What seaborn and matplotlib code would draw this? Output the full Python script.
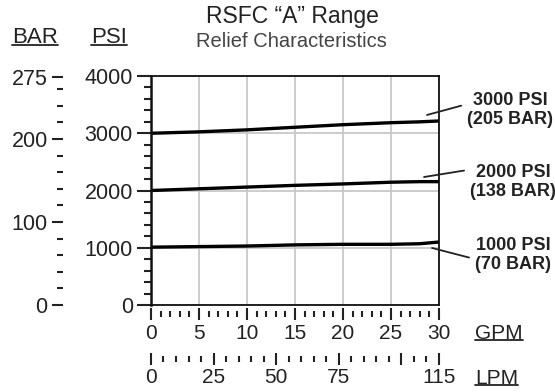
import numpy as np
import pandas as pd
import matplotlib
matplotlib.use('Agg')
import matplotlib.pyplot as plt
import seaborn as sns
from matplotlib.lines import Line2D
from matplotlib.ticker import FixedLocator

# data
gpm = [0, 5, 10, 15, 20, 25, 28, 30]
psi_3000 = [3000, 3025, 3060, 3105, 3150, 3185, 3200, 3215]
psi_2000 = [2000, 2030, 2060, 2090, 2115, 2145, 2155, 2155]
psi_1000 = [1010, 1020, 1030, 1050, 1060, 1060, 1070, 1100]
settings = ['3000 PSI\n(205 BAR)', '2000 PSI\n(138 BAR)', '1000 PSI\n(70 BAR)']

bar_major = [0, 100, 200, 275]
bar_minor = [20, 40, 60, 80, 120, 140, 160, 180, 220, 240, 260]
lpm_major = [0, 25, 50, 75, 100, 115]
lpm_labels = ['0', '25', '50', '75', '', '115']
lpm_minor = [5, 10, 15, 20, 30, 35, 40, 45, 55, 60, 65, 70, 80, 85, 90, 95, 105, 110]

PSI_PER_BAR = 14.5038
LPM_PER_GPM = 115 / 30

df = pd.DataFrame({
    'gpm': gpm * 3,
    'psi': psi_3000 + psi_2000 + psi_1000,
    'setting': [settings[0]] * len(gpm) + [settings[1]] * len(gpm) + [settings[2]] * len(gpm),
})

sns.set_style('white', {'xtick.bottom': True, 'ytick.left': True})
plt.rcParams['font.family'] = ['Liberation Sans', 'DejaVu Sans']
txt = '#222222'

fig = plt.figure(figsize=(5.55, 3.92), dpi=100)
ax = fig.add_axes([0.272, 0.222, 0.519, 0.584])

sns.lineplot(data=df, x='gpm', y='psi', hue='setting', palette=['black'] * 3,
             linewidth=2.4, legend=False, ax=ax)

ax.set_xlim(0, 30)
ax.set_ylim(0, 4000)
ax.set_xlabel(None)
ax.set_ylabel(None)
ax.set_xticks(range(0, 31, 5))
ax.set_yticks(range(0, 4001, 1000))
ax.yaxis.set_minor_locator(FixedLocator([v for v in range(0, 4001, 200) if v % 1000]))
ax.grid(True, color='#c8c8c8', linewidth=1.3)
ax.set_axisbelow(True)
for s in ax.spines.values():
    s.set_visible(True)
    s.set_color('#111111')
    s.set_linewidth(1.3)
ax.spines['left'].set_linewidth(1.8)
ax.tick_params(axis='x', length=0, labelbottom=False)
ax.tick_params(axis='y', which='major', direction='out', length=10, width=1.5,
               color=txt, labelcolor=txt, labelsize=15.5, pad=3)
ax.tick_params(axis='y', which='minor', direction='out', length=5, width=1.5, color=txt, left=True)

# BAR scale
bar = ax.secondary_yaxis(-0.3056, functions=(lambda p: p / PSI_PER_BAR, lambda b: b * PSI_PER_BAR))
bar.set_yticks(bar_major)
bar.yaxis.set_minor_locator(FixedLocator(bar_minor))
bar.spines['left'].set_visible(False)
bar.tick_params(which='major', direction='out', length=8, width=1.5, color=txt,
                labelcolor=txt, labelsize=15.5, pad=3, left=True)
bar.tick_params(which='minor', direction='out', length=4, width=1.5, color=txt, left=True)

# GPM scale
gx = ax.secondary_xaxis(-0.0415)
gx.set_xticks(range(0, 31, 5))
gx.xaxis.set_minor_locator(FixedLocator([v for v in range(31) if v % 5]))
gx.spines['bottom'].set_visible(False)
gx.tick_params(which='major', direction='inout', length=9, width=1.5, color=txt,
               labelcolor=txt, labelsize=15, pad=2, bottom=True)
gx.tick_params(which='minor', direction='inout', length=5, width=1.5, color=txt, bottom=True)

# LPM scale
lx = ax.secondary_xaxis(-0.238, functions=(lambda g: g * LPM_PER_GPM, lambda l: l / LPM_PER_GPM))
lx.set_xticks(lpm_major, lpm_labels)
lx.xaxis.set_minor_locator(FixedLocator(lpm_minor))
lx.spines['bottom'].set_visible(False)
lx.tick_params(which='major', direction='inout', length=9, width=1.5, color=txt,
               labelcolor=txt, labelsize=15, pad=2, bottom=True)
lx.tick_params(which='minor', direction='inout', length=5, width=1.5, color=txt, bottom=True)

# titles
fig.text(0.527, 0.957, 'RSFC \u201cA\u201d Range', ha='center', va='center', fontsize=16.5, color=txt)
fig.text(0.526, 0.893, 'Relief Characteristics', ha='center', va='center', fontsize=14.5, color='#444444')

heads = [
    fig.text(0.063, 0.905, 'BAR', ha='center', va='center', fontsize=16, color=txt),
    fig.text(0.197, 0.905, 'PSI', ha='center', va='center', fontsize=16, color=txt),
    ax.text(1.125, -0.123, 'GPM', transform=ax.transAxes, ha='left', va='center', fontsize=15, color=txt),
    ax.text(1.125, -0.32, 'LPM', transform=ax.transAxes, ha='left', va='center', fontsize=15, color=txt),
]

# annotations with leader lines
notes = [
    (settings[0], (28.75, 3320), (1.247, 0.852), (0.0, 0.66)),
    (settings[1], (28.44, 2236), (1.257, 0.537), (0.0, 0.84)),
    (settings[2], (29.27, 996), (1.257, 0.218), (0.0, 0.39)),
]
for label, xy, xyt, rel in notes:
    ax.annotate(label, xy=xy, xytext=xyt, textcoords='axes fraction',
                ha='center', va='center', multialignment='center',
                fontsize=13, fontweight='bold', color=txt, annotation_clip=False,
                arrowprops=dict(arrowstyle='-', color=txt, lw=1.3, relpos=rel,
                                shrinkA=2, shrinkB=0))

# underline the unit headers
fig.canvas.draw()
r = fig.canvas.get_renderer()
for t in heads:
    bb = t.get_window_extent(renderer=r).transformed(fig.transFigure.inverted())
    fig.add_artist(Line2D([bb.x0, bb.x1], [bb.y0 + 0.006, bb.y0 + 0.006],
                          transform=fig.transFigure, color=txt, lw=1.3))

fig.savefig('out.png', dpi=100)
